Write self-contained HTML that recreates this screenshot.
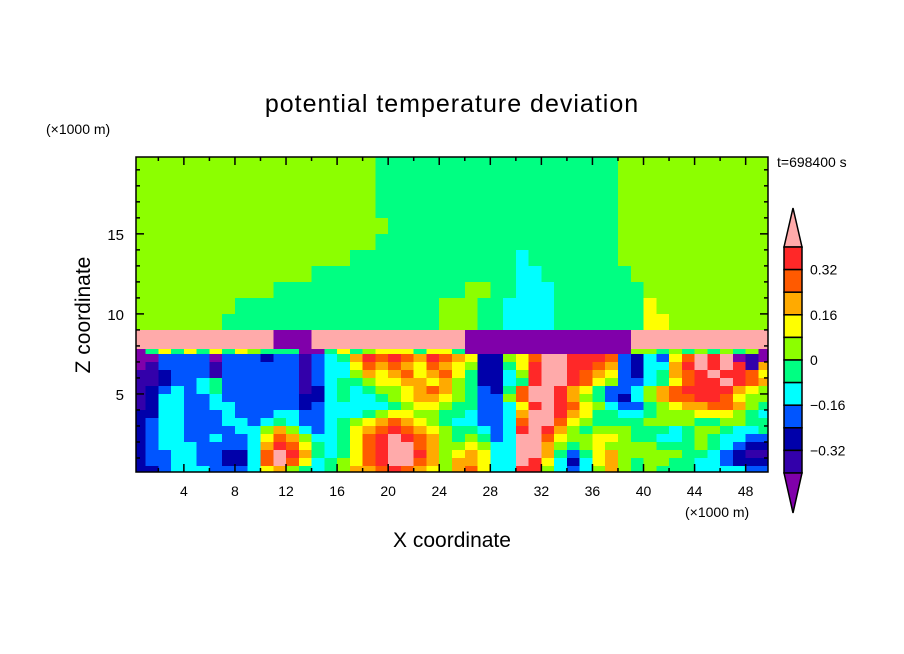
<!DOCTYPE html>
<html><head><meta charset="utf-8">
<style>
html,body{margin:0;padding:0;background:#fff;}
svg{display:block;font-family:"Liberation Sans","DejaVu Sans",sans-serif;}
</style></head>
<body>
<svg id="chart" width="904" height="654" viewBox="0 0 904 654" xmlns="http://www.w3.org/2000/svg">
<defs><clipPath id="pc"><rect x="136" y="157" width="632" height="315"/></clipPath></defs>
<g id="cells" shape-rendering="crispEdges" clip-path="url(#pc)"></g>
<g id="axes"></g>
<g id="cbar"></g>
<text x="452" y="112" font-size="25" text-anchor="middle" letter-spacing="1">potential temperature deviation</text>
<text x="46" y="134" font-size="14">(×1000 m)</text>
<text x="777" y="167" font-size="14">t=698400 s</text>
<text x="90" y="315" font-size="21" text-anchor="middle" transform="rotate(-90 90 315)">Z coordinate</text>
<text x="452" y="547" font-size="21" text-anchor="middle">X coordinate</text>
<text x="685" y="517" font-size="14">(×1000 m)</text>
</svg>
<script>
const levelColors=["#8000aa","#3300aa","#0000aa","#0055ff","#00ffff","#00ff82","#8cff00","#ffff00","#ffaa00","#ff5a00","#ff2828","#ffaaaa"];
const levelValues=[-0.44,-0.36,-0.28,-0.20,-0.12,-0.04,0.04,0.12,0.20,0.28,0.36,0.44];
const xEdges=[0,1,2,3,4,5,6,7,8,9,10,11,12,13,14,15,16,17,18,19,20,21,22,23,24,25,26,27,28,29,30,31,32,33,34,35,36,37,38,39,40,41,42,43,44,45,46,47,48,49,50];
const zEdges=[20,19,18,17,16,15,14,13,12,11,10,9,7.8,7.5,7,6.5,6,5.5,5,4.5,4,3.5,3,2.5,2,1.5,1,0.5,0];
const fieldRows=[
"66666666666666666665555555555555555555666666666666",
"66666666666666666665555555555555555555666666666666",
"66666666666666666665555555555555555555666666666666",
"66666666666666666665555555555555555555666666666666",
"66666666666666666666555555555555555555666666666666",
"66666666666666666665555555555555555555666666666666",
"66666666666666666555555555555545555555666666666666",
"66666666666666555555555555555544555555566666666666",
"66666666666555555555555555665544455555556666666666",
"66666666555555555555555566655444455555557666666666",
"66666665555555555555555566655444455555557766666666",
"bbbbbbbbbbb000bbbbbbbbbbbb0000000000000bbbbbbbbbbb",
"05757575765550057567775775000000000000066565656560",
"003333033323313458a9a98a98722679bbaaa9324379bab010",
"01333313333331344798987987622 57abbaa9832448ababa18".replace(" ",""),
"11233313333331344687897897522 46abba987324589abaa97".replace(" ",""),
"11233453333331345567788786522 45abba976334579aaba98".replace(" ",""),
"1234345333333124545667898653259bba875334689aaaa87",
"1244334333333224544567887653369bba8653246899aa976",
"124433443333323444445677655334 7aba9764335678899865".replace(" ",""),
"224433343334433444567766554334 8bba8755445666777654".replace(" ",""),
"234433344345433456789876544334 9bb97655556666556655".replace(" ",""),
"234433334468643457 89a987655434aba86566655545665445".replace(" ",""),
"2344334334798644579aba98656534bb976677655445654433",
"23444333348a9754579abb98667644bb865676666555654322",
"23344332249ba854579abba8678744bb853578666665543211",
"23344332249b9745679abb98688744ba742478656655443222",
"22344433347865456889a987689744aa643468656555444433"
];
const xTicks=[4,8,12,16,20,24,28,32,36,40,44,48];
const yTicks=[5,10,15];
const cbarLabels=["0.32","0.16","0","\u22120.16","\u22120.32"];
const cbarLabelIdx=[1,3,5,7,9];

const NS="http://www.w3.org/2000/svg";
const X0=136,X1=768,Y0=157,Y1=472,XMIN=0.25,XMAX=49.75,ZMIN=0.125,ZMAX=19.8;
function sx(v){return X0+(v-XMIN)*(X1-X0)/(XMAX-XMIN);}
function sy(v){return Y1-(v-ZMIN)*(Y1-Y0)/(ZMAX-ZMIN);}
function mk(tag,attrs,parent){const e=document.createElementNS(NS,tag);for(const k in attrs)e.setAttribute(k,attrs[k]);parent.appendChild(e);return e;}
const cells=document.getElementById('cells');
function colorOf(v){let i=0;for(let k=0;k<levelValues.length;k++){if(Math.abs(levelValues[k]-v)<Math.abs(levelValues[i]-v))i=k;}return levelColors[i];}
for(let r=0;r<fieldRows.length;r++){
  const row=fieldRows[r];
  const yt=sy(zEdges[r]),yb=sy(zEdges[r+1]);
  for(let c=0;c<50;c++){
    const code=parseInt(row[c]||"6",16);
    const v=levelValues[code];
    const xl=sx(xEdges[c]),xr=sx(xEdges[c+1]);
    const el=mk('rect',{x:xl.toFixed(2),y:yt.toFixed(2),width:(xr-xl+0.6).toFixed(2),height:(yb-yt+0.6).toFixed(2),fill:colorOf(v)},cells);
    
    
  }
}
const axes=document.getElementById('axes');
const frame=mk('rect',{x:X0,y:Y0,width:X1-X0,height:Y1-Y0,fill:'none',stroke:'#000','stroke-width':1.5},axes);


for(let v=2;v<50;v+=2){
  const x=sx(v),L=(v%4===0)?8:4;
  mk('line',{x1:x,y1:Y1,x2:x,y2:Y1-L,stroke:'#000','stroke-width':1.5},axes);
  mk('line',{x1:x,y1:Y0,x2:x,y2:Y0+L,stroke:'#000','stroke-width':1.5},axes);
}
for(let v=1;v<20;v++){
  const y=sy(v),L=(v%5===0)?8:4;
  mk('line',{x1:X0,y1:y,x2:X0+L,y2:y,stroke:'#000','stroke-width':1.5},axes);
  mk('line',{x1:X1,y1:y,x2:X1-L,y2:y,stroke:'#000','stroke-width':1.5},axes);
}
xTicks.forEach(v=>{const t=mk('text',{x:sx(v),y:496,'font-size':14,'text-anchor':'middle'},axes);t.textContent=String(v);

});
yTicks.forEach(v=>{const t=mk('text',{x:124,y:sy(v)+6,'font-size':15,'text-anchor':'end'},axes);t.textContent=String(v);

});
const cb=document.getElementById('cbar');
const CBX=784,CBW=18,CBT=247,CBB=473;
const bh=(CBB-CBT)/10;
const tri1=mk('polygon',{points:`${CBX},${CBT} ${CBX+CBW/2},208 ${CBX+CBW},${CBT}`,fill:levelColors[11],stroke:'#000','stroke-width':1.5},cb);


for(let i=0;i<10;i++){
  const r=mk('rect',{x:CBX,y:CBT+i*bh,width:CBW,height:bh,fill:levelColors[10-i],stroke:'#000','stroke-width':1.5},cb);
  
  
}
const tri2=mk('polygon',{points:`${CBX},${CBB} ${CBX+CBW/2},513 ${CBX+CBW},${CBB}`,fill:levelColors[0],stroke:'#000','stroke-width':1.5},cb);


cbarLabels.forEach((s,i)=>{const t=mk('text',{x:810,y:CBT+cbarLabelIdx[i]*bh+5,'font-size':14},cb);t.textContent=s;

});
</script>
</body></html>
